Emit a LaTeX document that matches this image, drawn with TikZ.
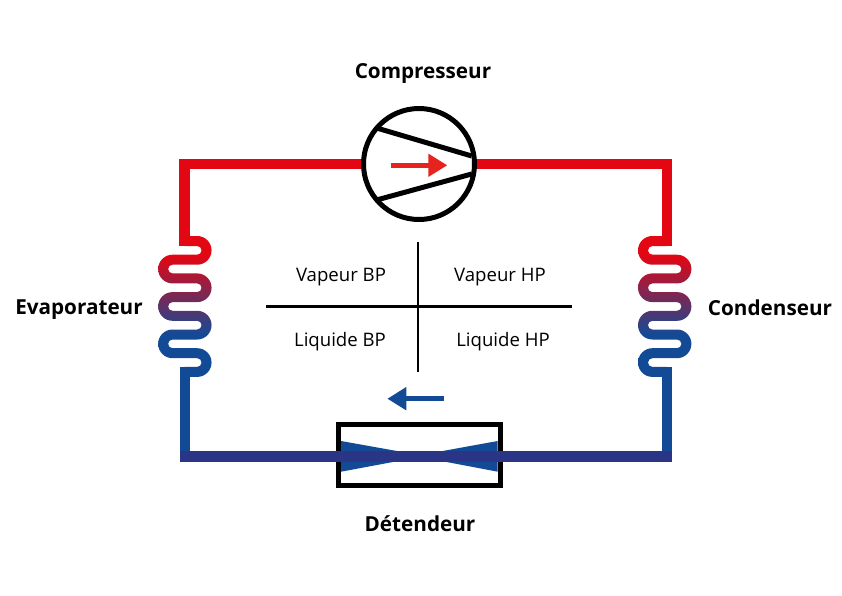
\documentclass[tikz,border=0pt]{standalone}
\usepackage{fontspec}
\setmainfont{Open Sans}
\usetikzlibrary{arrows.meta}
\definecolor{pipered}{HTML}{E30613}
\definecolor{arrowred}{HTML}{E6231E}
\definecolor{pipeblue}{HTML}{134A96}
\definecolor{barblue}{HTML}{2B3585}
\pgfdeclareverticalshading{coilgrad}{100bp}{color(0bp)=(pipeblue); color(40bp)=(pipeblue); color(68bp)=(pipered); color(100bp)=(pipered)}
% outline of one coil, #1 = x of the pipe
\newcommand{\coiloutline}[1]{
    (#1,-5) -- (12.35,-5) arc[start angle=-90,end angle=90,radius=14.35]
    -- ++(-24.7,0) arc[start angle=-90,end angle=-270,radius=4.35]
    -- ++(24.7,0) arc[start angle=-90,end angle=90,radius=14.35]
    -- ++(-24.7,0) arc[start angle=-90,end angle=-270,radius=4.35]
    -- ++(24.7,0) arc[start angle=-90,end angle=90,radius=14.35]
    -- ++(-24.7,0) arc[start angle=-90,end angle=-270,radius=4.35]
    -- ++(24.7,0) arc[start angle=-90,end angle=90,radius=14.35]
    -- (#1,135.9) -- (#1,125.9) -- (12.35,125.9)
    arc[start angle=90,end angle=-90,radius=4.35]
    -- ++(-24.7,0) arc[start angle=90,end angle=270,radius=14.35]
    -- ++(24.7,0) arc[start angle=90,end angle=-90,radius=4.35]
    -- ++(-24.7,0) arc[start angle=90,end angle=270,radius=14.35]
    -- ++(24.7,0) arc[start angle=90,end angle=-90,radius=4.35]
    -- ++(-24.7,0) arc[start angle=90,end angle=270,radius=14.35]
    -- ++(24.7,0) arc[start angle=90,end angle=-90,radius=4.35]
    -- (#1,5) -- cycle}
\tikzset{
    redpipe/.style={draw=pipered,line width=10.5pt,line join=miter},
    bluepipe/.style={draw=pipeblue,line width=10pt},
    barpipe/.style={draw=barblue,line width=10.5pt},
    coil/.style={shading=coilgrad,draw=none},
    organ/.style={draw=black,line width=5pt,fill=white,inner sep=0pt},
    blade/.style={draw=black,line width=5pt},
    bigtext/.style={font=\fontsize{20.7}{24}\selectfont\bfseries},
    smalltext/.style={font=\fontsize{18.6}{22}\selectfont},
    flow/.style={line width=5.5pt}
}
\begin{document}
\begin{tikzpicture}[x=1pt,y=-1pt]
        \useasboundingbox (0,0) rectangle (842,595);
        % Coordinates
        \coordinate (evaptop) at (184.5,246);
        \coordinate (evapbot) at (184.5,367);
        \coordinate (condtop) at (667,246);
        \coordinate (condbot) at (667,367);
        \coordinate (evapcorner) at (179.5,456.3);
        \coordinate (condcorner) at (672,456.3);
        \coordinate (evapdown) at (184.5,456.3);
        \coordinate (conddown) at (667,456.3);
        \coordinate (crosstop) at (418,242);
        \coordinate (crossbot) at (418,372);
        \coordinate (crossleft) at (266,306.5);
        \coordinate (crossright) at (572,306.5);
        % Nodes
        \node[organ, circle, minimum size=111pt] (comp) at (419,164) {};
        \node[organ, minimum width=162pt, minimum height=61.7pt] (det) at (419.2,455) {};
        \node[bigtext] (comptext) at (423,73.5) {Compresseur};
        \node[bigtext] (evaptext) at (79,309.5) {Evaporateur};
        \node[bigtext] (condtext) at (770,307.5) {Condenseur};
        \node[bigtext] (dettext) at (420,524) {Détendeur};
        \node[smalltext] (vapbp) at (341,277) {Vapeur BP};
        \node[smalltext] (vaphp) at (500,277) {Vapeur HP};
        \node[smalltext] (liqbp) at (340,342) {Liquide BP};
        \node[smalltext] (liqhp) at (503,342) {Liquide HP};
        % Pipes
        \draw[redpipe] (comp.west) -| (evaptop);
        \draw[redpipe] (comp.east) -| (condtop);
        \draw[bluepipe] (evapbot) -- (evapdown);
        \draw[bluepipe] (condbot) -- (conddown);
        % Coils
        \begin{scope}[shift={(184.85,241)}]
            \path[coil] \coiloutline{-0.35};
        \end{scope}
        \begin{scope}[shift={(664.7,241)},xscale=-1]
            \path[coil] \coiloutline{-2.3};
        \end{scope}
        % Compressor
        \coordinate (bladeone) at (378,128.4);
        \coordinate (bladetwo) at (378,199.6);
        \coordinate (tipone) at (471.7,156);
        \coordinate (tiptwo) at (471.7,174);
        \draw[blade] (bladeone) -- (tipone);
        \draw[blade] (bladetwo) -- (tiptwo);
        \coordinate (redtail) at (391,165.3);
        \coordinate (redtip) at (447.3,165.3);
        \draw[-{Triangle[length=19pt,width=22pt]},arrowred,flow] (redtail) -- (redtip);
        % Expansion valve
        \fill[pipeblue] (341,441) -- (425,456) -- (341,471.7) -- cycle;
        \fill[pipeblue] (497.7,441) -- (415,456) -- (497.7,471.7) -- cycle;
        \draw[barpipe] (evapcorner) -- (condcorner);
        \coordinate (bluetail) at (443.7,398.7);
        \coordinate (bluetip) at (387.3,398.7);
        \draw[-{Triangle[length=19pt,width=22pt]},pipeblue,flow] (bluetail) -- (bluetip);
        % Cross
        \draw[line width=2.5pt] (crosstop) -- (crossbot);
        \draw[line width=2.5pt] (crossleft) -- (crossright);
    \end{tikzpicture}
\end{document}
